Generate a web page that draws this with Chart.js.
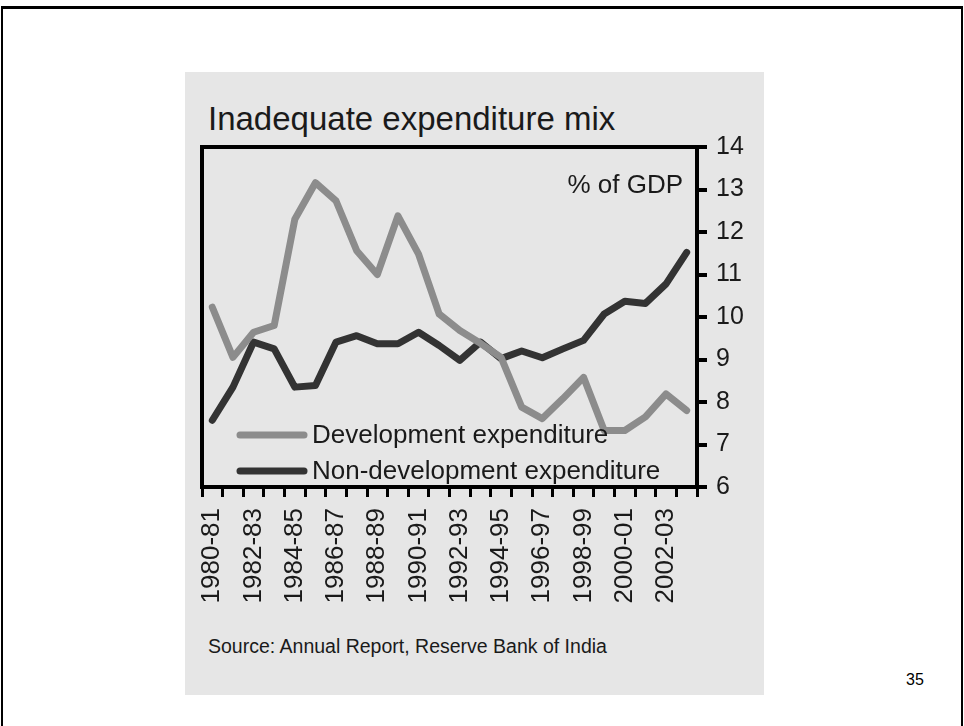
<!DOCTYPE html>
<html>
<head>
<meta charset="utf-8">
<script src="https://cdn.jsdelivr.net/npm/chart.js@4.4.0/dist/chart.umd.min.js"></script>
<style>
  html, body { margin: 0; padding: 0; background: #fff; }
  body { width: 964px; height: 726px; position: relative; overflow: hidden; font-family: "Liberation Sans", Arial, sans-serif; }
  #frame { position: absolute; left: 1px; top: 6px; width: 958px; height: 740px; border-left: 2px solid #000; border-right: 2px solid #000; border-top: 3px solid #000; }
  #panel { position: absolute; left: 185px; top: 72px; width: 579px; height: 623px; background: #e6e6e6; }
  .txt { position: absolute; line-height: 1; white-space: nowrap; color: #1a1a1a; }
  #title { left: 208px; top: 102px; font-size: 33px; }
  #source { left: 208px; top: 637px; font-size: 19.5px; }
  #page { left: 906px; top: 672px; font-size: 16px; color: #000; }
  #c { position: absolute; left: 0; top: 0; }
</style>
</head>
<body>
<div id="frame"></div>
<div id="panel"></div>
<div id="title" class="txt">Inadequate expenditure mix</div>
<div id="source" class="txt">Source: Annual Report, Reserve Bank of India</div>
<div id="page" class="txt">35</div>
<canvas id="c" width="964" height="726"></canvas>
<script>
const categories = ['1980-81','1981-82','1982-83','1983-84','1984-85','1985-86','1986-87','1987-88',
  '1988-89','1989-90','1990-91','1991-92','1992-93','1993-94','1994-95','1995-96','1996-97','1997-98',
  '1998-99','1999-00','2000-01','2001-02','2002-03','2003-04'];
const tickLabels = ['1980-81','1982-83','1984-85','1986-87','1988-89','1990-91','1992-93','1994-95',
  '1996-97','1998-99','2000-01','2002-03'];
const devExp = [10.23, 9.05, 9.64, 9.8, 12.3, 13.16, 12.73, 11.56, 11.0, 12.38, 11.48, 10.07,
  9.68, 9.38, 9.05, 7.88, 7.61, 8.08, 8.58, 7.33, 7.33, 7.65, 8.19, 7.8];
const nonDevExp = [7.57, 8.35, 9.41, 9.25, 8.35, 8.39, 9.41, 9.56, 9.37, 9.37, 9.64, 9.33,
  8.98, 9.41, 9.02, 9.2, 9.04, 9.25, 9.45, 10.07, 10.37, 10.32, 10.78, 11.52];
const seriesNames = ['Development expenditure', 'Non-development expenditure'];
const unitLabel = '% of GDP';
const yMin = 6, yMax = 14, yStep = 1;

const FONT = '"Liberation Sans", Arial, sans-serif';

const decorPlugin = {
  id: 'decor',
  afterDatasetsDraw(chart) {
    const ctx = chart.ctx;
    const a = chart.chartArea;
    ctx.save();
    ctx.strokeStyle = '#000';
    ctx.lineWidth = 4;
    ctx.beginPath();
    ctx.moveTo(a.left, a.bottom + 2);
    ctx.lineTo(a.left, a.top);
    ctx.lineTo(a.right, a.top);
    ctx.stroke();
    ctx.fillStyle = '#1a1a1a';
    ctx.font = '26px ' + FONT;
    ctx.textAlign = 'right';
    ctx.textBaseline = 'alphabetic';
    ctx.fillText(unitLabel, a.right - 14, a.top + 46);
    chart.data.datasets.forEach((ds, i) => {
      const y = a.bottom - 52 + i * 36;
      ctx.strokeStyle = ds.borderColor;
      ctx.lineWidth = 7;
      ctx.lineCap = 'round';
      ctx.beginPath();
      ctx.moveTo(a.left + 38, y);
      ctx.lineTo(a.left + 102, y);
      ctx.stroke();
      ctx.fillStyle = '#1a1a1a';
      ctx.textAlign = 'left';
      ctx.textBaseline = 'middle';
      ctx.font = '26px ' + FONT;
      ctx.fillText(ds.label, a.left + 110, y + 1);
    });
    ctx.restore();
  }
};

new Chart(document.getElementById('c'), {
  type: 'line',
  data: {
    labels: categories,
    datasets: [
      { label: seriesNames[0], data: devExp, borderColor: '#8c8c8c', borderWidth: 7,
        pointRadius: 0, tension: 0, borderJoinStyle: 'round', borderCapStyle: 'round', fill: false },
      { label: seriesNames[1], data: nonDevExp, borderColor: '#333333', borderWidth: 7,
        pointRadius: 0, tension: 0, borderJoinStyle: 'round', borderCapStyle: 'round', fill: false }
    ]
  },
  options: {
    responsive: false,
    animation: false,
    devicePixelRatio: 1,
    layout: { padding: { left: 202, top: 147, right: 207, bottom: 119 } },
    plugins: { legend: { display: false }, tooltip: { enabled: false }, title: { display: false } },
    scales: {
      x: {
        type: 'category',
        offset: true,
        grid: { offset: true, drawOnChartArea: false, drawTicks: true, tickLength: 10, lineWidth: 3, color: '#000' },
        border: { display: true, color: '#000', width: 4 },
        ticks: {
          autoSkip: false, maxRotation: 90, minRotation: 90, padding: 11, color: '#1a1a1a',
          font: { size: 26, family: FONT },
          callback: (v, i) => tickLabels.includes(categories[i]) ? categories[i] : ''
        },
        afterFit(s) { s.height = 120; }
      },
      y: {
        position: 'right',
        min: yMin, max: yMax,
        ticks: { stepSize: yStep, padding: 9, color: '#1a1a1a', font: { size: 25, family: FONT } },
        grid: { drawOnChartArea: false, drawTicks: true, tickLength: 10, lineWidth: 4, color: '#000' },
        border: { display: true, color: '#000', width: 4 },
        afterFit(s) { s.width = 60; }
      }
    }
  },
  plugins: [decorPlugin]
});
</script>
</body>
</html>
